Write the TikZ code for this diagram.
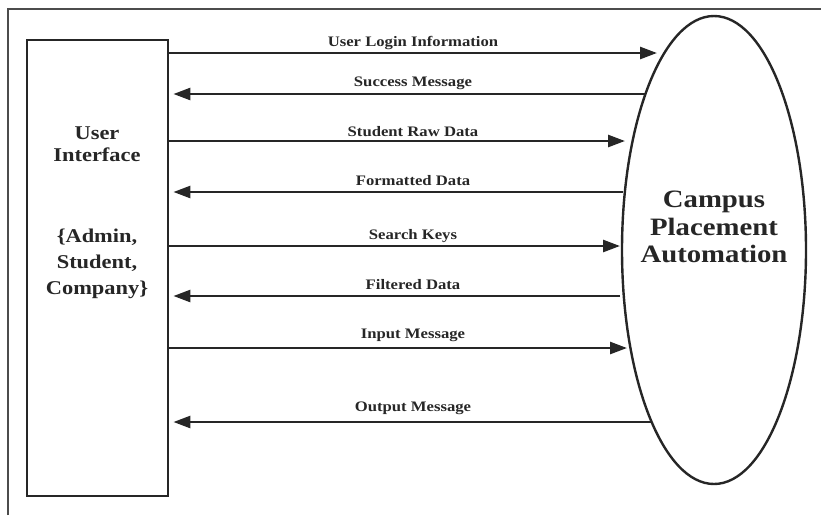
\documentclass[tikz,border=0pt]{standalone}
\usepackage{fontspec}
\setmainfont{Liberation Serif}[FakeStretch=1.15]
\usetikzlibrary{arrows.meta,shapes.geometric}
\begin{document}
\begin{tikzpicture}[x=1pt,y=-1pt,
  flow/.style={line width=2.6pt, draw=black!85, -{Triangle[length=17pt,width=12pt]}},
  lbl/.style={inner sep=0pt, font=\fontsize{14.5}{16}\selectfont\bfseries, text=black!85},
  uitext/.style={inner sep=0pt, align=center, text=black!85},
  frameline/.style={line width=2pt, draw=black!70}
]
\useasboundingbox (0,0) rectangle (821,515);
\fill[white] (0,0) rectangle (821,515);
\draw[frameline] (8,515) -- (8,9) -- (821,9);

% entities
\node[draw=black!85, line width=2.8pt, minimum width=141pt, minimum height=456pt, inner sep=0pt] (ui) at (97.5,268) {};
\node[ellipse, draw=black!85, line width=2.4pt, minimum width=184pt, minimum height=468pt, inner sep=0pt] (cpa) at (714,250) {};

\node[uitext, font=\fontsize{19.5}{22}\selectfont\bfseries] (uiname) at (97,144) {User\\Interface};
\node[uitext, font=\fontsize{19.5}{26}\selectfont\bfseries] (uiroles) at (97,264) {\{Admin,\\Student,\\Company\}};
\node[uitext, font=\fontsize{25}{27.5}\selectfont\bfseries] (cpaname) at (714,227) {Campus\\Placement\\Automation};

% ellipse-side end points
\coordinate (e1) at (657,53);
\coordinate (e2) at (646,94);
\coordinate (e3) at (625,141);
\coordinate (e4) at (623,192);
\coordinate (e5) at (620,246);
\coordinate (e6) at (620,296);
\coordinate (e7) at (627,348);
\coordinate (e8) at (651,422);

% flows
\draw[flow] (ui.east |- e1) -- (e1);
\draw[flow, shorten >=4pt] (e2) -- (ui.east |- e2);
\draw[flow] (ui.east |- e3) -- (e3);
\draw[flow, shorten >=4pt] (e4) -- (ui.east |- e4);
\draw[flow] (ui.east |- e5) -- (e5);
\draw[flow, shorten >=4pt] (e6) -- (ui.east |- e6);
\draw[flow] (ui.east |- e7) -- (e7);
\draw[flow, shorten >=4pt] (e8) -- (ui.east |- e8);

% labels
\node[lbl] (l1) at (413,43) {User Login Information};
\node[lbl] (l2) at (413,83) {Success Message};
\node[lbl] (l3) at (413,132) {Student Raw Data};
\node[lbl] (l4) at (413,181) {Formatted Data};
\node[lbl] (l5) at (413,236) {Search Keys};
\node[lbl] (l6) at (413,285) {Filtered Data};
\node[lbl] (l7) at (413,335) {Input Message};
\node[lbl] (l8) at (413,408) {Output Message};
\end{tikzpicture}
\end{document}
